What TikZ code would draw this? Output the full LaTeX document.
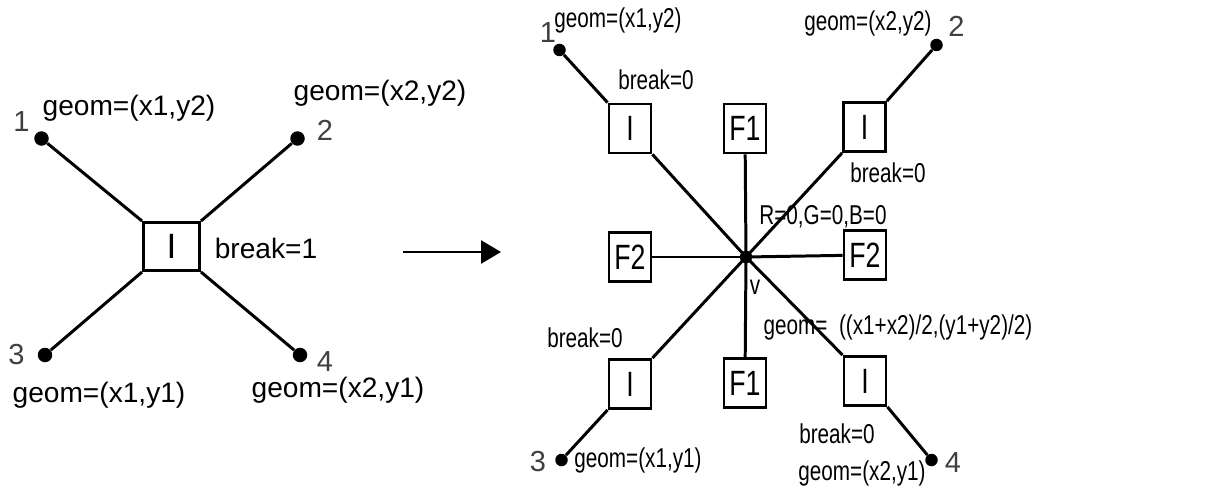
\documentclass[tikz,border=0pt]{standalone}
\usepackage{fontspec}
\setmainfont{Liberation Sans}
\newfontfamily\narrowfont[FakeStretch=0.76]{Liberation Sans}
\usetikzlibrary{arrows.meta}

\begin{document}
\begin{tikzpicture}[
			dot/.style={circle,fill=black,inner sep=0pt,minimum size=2.9mm},
			sdot/.style={circle,fill=black,inner sep=0pt,minimum size=2.5mm},
			ibox/.style={draw,line width=1.7pt,inner sep=0pt,minimum width=1.12cm,minimum height=0.96cm,font=\fontsize{20}{24}\selectfont},
			cbox/.style={draw,line width=1.6pt,inner sep=0pt,minimum width=0.84cm,minimum height=0.98cm,font=\narrowfont\fontsize{20}{24}\selectfont},
			lbl/.style={inner sep=0pt,font=\fontsize{16}{19}\selectfont},
			slbl/.style={inner sep=0pt,font=\narrowfont\fontsize{15.5}{18}\selectfont},
			num/.style={inner sep=0pt,text=black!75,font=\fontsize{16.5}{19}\selectfont},
			wire/.style={line width=1.7pt}]
			\useasboundingbox (0,0) rectangle (24.28,9.72);
			% one junction with break=1
			\node[ibox] (i) at (3.43,4.79) {I};
			\node[dot] (a1) at (0.83,6.95) {};
			\node[dot] (a2) at (5.95,6.95) {};
			\node[dot] (a3) at (0.90,2.62) {};
			\node[dot] (a4) at (6.00,2.62) {};
			\draw[wire] (a1) -- (i.north west);
			\draw[wire] (a2) -- (i.north east);
			\draw[wire] (a3) -- (i.south west);
			\draw[wire] (a4) -- (i.south east);
			\node[num] (n1) at (0.43,7.29) {1};
			\node[num] (n2) at (6.50,7.12) {2};
			\node[num] (n3) at (0.33,2.62) {3};
			\node[num] (n4) at (6.50,2.49) {4};
			\node[lbl] (g1) at (2.58,7.56) {geom=(x1,y2)};
			\node[lbl] (g2) at (7.60,7.86) {geom=(x2,y2)};
			\node[lbl] (g3) at (1.98,1.82) {geom=(x1,y1)};
			\node[lbl] (g4) at (6.76,1.92) {geom=(x2,y1)};
			\node[lbl] (br) at (5.32,4.76) {break=1};
			\coordinate (from) at (8.06,4.68);
			\coordinate (to) at (10.02,4.68);
			\draw[line width=1.5pt,-{Triangle[length=4mm,width=4.6mm]}] (from) -- (to);
			% split into the vertex v
			\node[sdot] (v) at (14.92,4.58) {};
			\node[cbox] (ia) at (12.60,7.15) {I};
			\node[cbox] (ib) at (17.29,7.18) {I};
			\node[cbox] (ic) at (12.60,2.04) {I};
			\node[cbox] (id) at (17.30,2.10) {I};
			\node[cbox] (fa) at (14.90,7.15) {F1};
			\node[cbox] (fb) at (14.90,2.06) {F1};
			\node[cbox] (fc) at (12.60,4.58) {F2};
			\node[cbox] (fd) at (17.30,4.62) {F2};
			\node[sdot] (b1) at (11.19,8.72) {};
			\node[sdot] (b2) at (18.73,8.82) {};
			\node[sdot] (b3) at (11.23,0.52) {};
			\node[sdot] (b4) at (18.63,0.52) {};
			\draw[wire] (b1) -- (ia.north west);
			\draw[wire] (b2) -- (ib.north east);
			\draw[wire] (b3) -- (ic.south west);
			\draw[wire] (b4) -- (id.south east);
			\draw[wire] (ia.south east) -- (v.center);
			\draw[wire] (ib.south west) -- (v.center);
			\draw[wire] (ic.north east) -- (v.center);
			\draw[wire] (id.north west) -- (v.center);
			\draw[wire] (fa) -- (v.center);
			\draw[wire] (fb) -- (v.center);
			\draw[wire] (fc) -- (v.center);
			\draw[wire] (fd) -- (v.center);
			\node[num] (m1) at (10.96,9.06) {1};
			\node[num] (m2) at (19.13,9.19) {2};
			\node[num] (m3) at (10.76,0.49) {3};
			\node[num] (m4) at (19.06,0.46) {4};
			\node[slbl] (h1) at (12.36,9.32) {geom=(x1,y2)};
			\node[slbl] (h2) at (17.36,9.26) {geom=(x2,y2)};
			\node[slbl] (h3) at (12.76,0.52) {geom=(x1,y1)};
			\node[slbl] (h4) at (17.24,0.25) {geom=(x2,y1)};
			\node[slbl] (k1) at (13.12,8.12) {break=0};
			\node[slbl] (k2) at (17.76,6.26) {break=0};
			\node[slbl] (k3) at (11.70,2.96) {break=0};
			\node[slbl] (k4) at (16.74,1.04) {break=0};
			\node[slbl] (rgb) at (16.46,5.38) {R=0,G=0,B=0};
			\node[slbl] (vn) at (15.10,3.98) {v};
			\node[slbl] (gv) at (17.96,3.18) {geom=\ \ ((x1+x2)/2,(y1+y2)/2)};
\end{tikzpicture}
\end{document}
